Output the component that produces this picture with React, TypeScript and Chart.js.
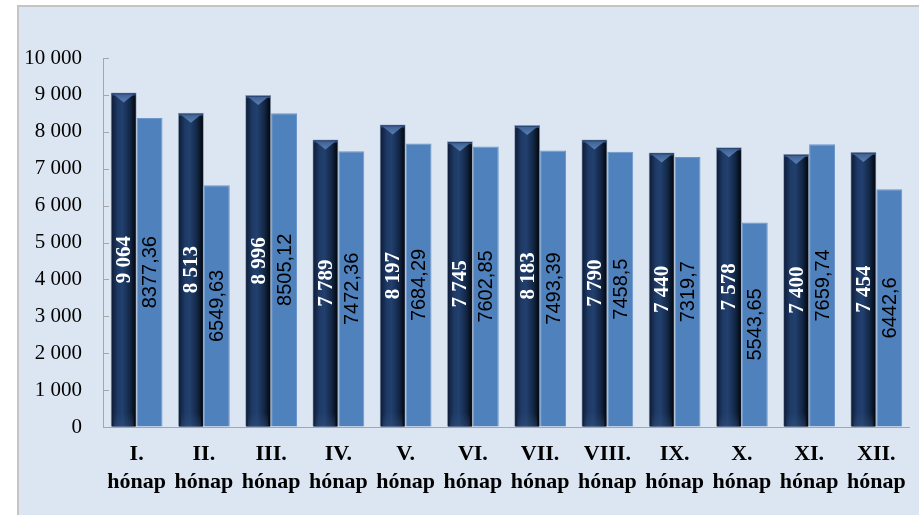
import React, { useEffect, useRef } from "react";
import { Chart, registerables } from "chart.js";

Chart.register(...registerables);

const months = ["I.", "II.", "III.", "IV.", "V.", "VI.", "VII.", "VIII.", "IX.", "X.", "XI.", "XII."];
const monthWord = "hónap";
const seriesA = [9064, 8513, 8996, 7789, 8197, 7745, 8183, 7790, 7440, 7578, 7400, 7454];
const seriesB = [8377.36, 6549.63, 8505.12, 7472.36, 7684.29, 7602.85, 7493.39, 7458.5, 7319.7, 5543.65, 7659.74, 6442.6];
const yTicksMax = 10000;
const yTicksStep = 1000;

const fmtSpace = (v: number) => String(Math.round(v)).replace(/\B(?=(\d{3})+(?!\d))/g, " ");
const fmtComma = (v: number) => String(v).replace(".", ",");

const barStylePlugin = {
  id: "barStyle",
  afterDatasetDraw(chart: any, args: any) {
    if (args.index !== 0) return;
    const ctx = chart.ctx;
    const meta = chart.getDatasetMeta(0);
    meta.data.forEach((el: any) => {
      const { x, y, base, width } = el.getProps(["x", "y", "base", "width"], true);
      const l = x - width / 2 + 1;
      const r = x + width / 2 - 1;
      const t = y + 1;
      const b = base;
      const g = ctx.createLinearGradient(l, 0, r, 0);
      g.addColorStop(0, "#0e1d38");
      g.addColorStop(0.25, "#1e3a66");
      g.addColorStop(0.45, "#22406e");
      g.addColorStop(0.75, "#132848");
      g.addColorStop(1, "#03070d");
      ctx.save();
      ctx.fillStyle = g;
      ctx.fillRect(l, t, r - l, b - t);
      const cg = ctx.createLinearGradient(0, t, 0, t + 9);
      cg.addColorStop(0, "#3d5f92");
      cg.addColorStop(1, "#5a7fb2");
      ctx.fillStyle = "#2a4a7a";
      ctx.fillRect(l, t, r - l, 2);
      ctx.beginPath();
      ctx.moveTo(l + 2, t + 1);
      ctx.lineTo(r - 2, t + 1);
      ctx.lineTo(x, t + 9);
      ctx.closePath();
      ctx.fillStyle = cg;
      ctx.fill();
      const bg = ctx.createLinearGradient(0, b - 14, 0, b);
      bg.addColorStop(0, "rgba(60,90,130,0)");
      bg.addColorStop(1, "rgba(60,90,130,0.35)");
      ctx.fillStyle = bg;
      ctx.fillRect(l + 2, b - 14, r - l - 4, 14);
      ctx.restore();
    });
  },
  afterDatasetsDraw(chart: any) {
    const ctx = chart.ctx;
    const ys = chart.scales.y;
    const xa = chart.chartArea.left;
    ctx.save();
    ctx.strokeStyle = "#a6a6a6";
    ctx.lineWidth = 1;
    ys.ticks.forEach((tk: any) => {
      const py = Math.round(ys.getPixelForValue(tk.value)) + 0.5;
      ctx.beginPath();
      ctx.moveTo(xa, py);
      ctx.lineTo(xa + 6, py);
      ctx.stroke();
    });
    ctx.restore();
    [0, 1].forEach((di) => {
      const meta = chart.getDatasetMeta(di);
      const data = chart.data.datasets[di].data as number[];
      meta.data.forEach((el: any, i: number) => {
        const { x, y, base } = el.getProps(["x", "y", "base"], true);
        const cy = (y + base) / 2;
        ctx.save();
        ctx.translate(x, cy);
        ctx.rotate(-Math.PI / 2);
        ctx.textAlign = "center";
        ctx.textBaseline = "middle";
        if (di === 0) {
          ctx.font = "bold 21px 'Liberation Serif', 'Times New Roman', serif";
          ctx.fillStyle = "#ffffff";
          ctx.fillText(fmtSpace(data[i]), 0, 1);
        } else {
          ctx.font = "20px 'Liberation Sans', Arial, sans-serif";
          ctx.fillStyle = "#000000";
          ctx.fillText(fmtComma(data[i]), 0, 1);
        }
        ctx.restore();
      });
    });
  },
};

export default function App() {
  const ref = useRef<HTMLCanvasElement | null>(null);
  useEffect(() => {
    if (!ref.current) return;
    const chart = new Chart(ref.current, {
      type: "bar",
      data: {
        labels: months.map((m) => [m, monthWord]),
        datasets: [
          {
            data: seriesA,
            backgroundColor: "#1f3864",
            borderColor: "#8a97ab",
            borderWidth: 1,
            categoryPercentage: 0.77,
            barPercentage: 1,
          },
          {
            data: seriesB,
            backgroundColor: "#4f81bd",
            borderColor: "#6a96cc",
            borderWidth: 1,
            categoryPercentage: 0.77,
            barPercentage: 1,
          },
        ],
      },
      options: {
        responsive: false,
        maintainAspectRatio: false,
        animation: false,
        devicePixelRatio: 1,
        layout: { padding: { top: 58, right: 7, left: 0, bottom: 0 } },
        plugins: { legend: { display: false }, tooltip: { enabled: false } },
        scales: {
          x: {
            grid: { display: false, drawTicks: false },
            border: { display: true, color: "#a6a6a6", width: 1 },
            ticks: {
              color: "#000000",
              font: { family: "'Liberation Serif', 'Times New Roman', serif", size: 22, weight: "bold", lineHeight: "28px" },
              padding: 13,
              maxRotation: 0,
              autoSkip: false,
            },
            afterFit: (s: any) => {
              s.height = 88;
            },
          },
          y: {
            min: 0,
            max: yTicksMax,
            grid: { display: true, drawOnChartArea: false, drawTicks: false },
            border: { display: true, color: "#a6a6a6", width: 1 },
            ticks: {
              stepSize: yTicksStep,
              color: "#000000",
              font: { family: "'Liberation Serif', 'Times New Roman', serif", size: 21 },
              padding: 21,
              callback: (v: any) => fmtSpace(Number(v)),
            },
            afterFit: (s: any) => {
              s.width = 103;
            },
          },
        },
      },
      plugins: [barStylePlugin],
    } as any);
    return () => chart.destroy();
  }, []);
  return (
    <div style={{ position: "fixed", left: 0, top: 0, width: 919, height: 515, background: "#ffffff", overflow: "hidden" }}>
      <div
        style={{
          position: "absolute",
          left: 17,
          top: 5,
          right: 0,
          bottom: 0,
          background: "#dce6f2",
          borderTop: "2px solid #c4c4c4",
          borderLeft: "2px solid #c4c4c4",
        }}
      />
      <canvas ref={ref} width={919} height={515} style={{ position: "absolute", left: 0, top: 0 }} />
    </div>
  );
}
